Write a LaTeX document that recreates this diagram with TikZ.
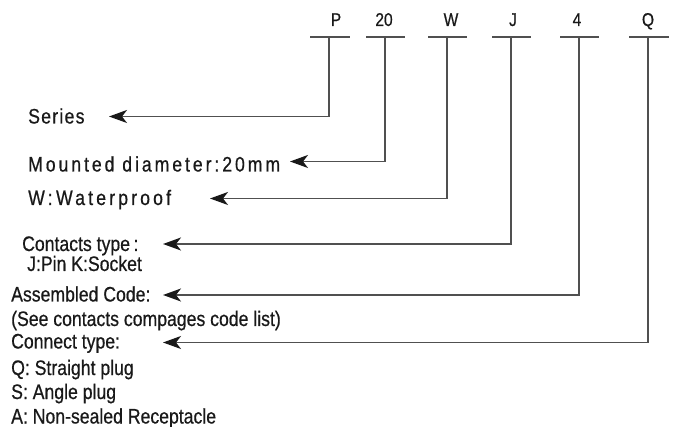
\documentclass[tikz,border=0pt]{standalone}
\usepackage{fontspec}
\usetikzlibrary{arrows.meta, positioning}
\newfontfamily\lbfont[FakeStretch=0.84, FakeBold=0.6]{Liberation Sans}
\definecolor{linecolor}{RGB}{80,80,80}
\definecolor{textcolor}{RGB}{25,25,25}

\begin{document}
\begin{tikzpicture}[x=1pt, y=-1pt]
  \tikzset{
    code/.style={
      font=\lbfont\fontsize{18.5}{21}\selectfont,
      text=textcolor,
      anchor=base,
      inner sep=0pt
    },
    desc/.style={
      font=\lbfont\fontsize{21}{24}\selectfont,
      text=textcolor,
      anchor=base west,
      inner sep=0pt
    },
    bar/.style={
      draw=linecolor,
      line width=1.8pt
    },
    conn/.style={
      draw=linecolor,
      line width=1.8pt,
      -{Stealth[length=18pt, width=13pt, inset=5pt, color=textcolor]}
    }
  }
  \useasboundingbox (0,0) rectangle (674,427);

  % Code letters on top
  \node[code] at (336,26) (cP) {P};
  \node[code] at (384,26) (c20) {20};
  \node[code] at (451,26) (cW) {W};
  \node[code] at (513,26) (cJ) {J};
  \node[code] at (577,26) (c4) {4};
  \node[code] at (648,26) (cQ) {Q};

  % Bars under the letters
  \coordinate (bP) at (329,37);
  \coordinate (b20) at (385,37);
  \coordinate (bW) at (447,37);
  \coordinate (bJ) at (511,37);
  \coordinate (b4) at (579,37);
  \coordinate (bQ) at (648,37);
  \draw[bar] (310,37) -- (350,37);
  \draw[bar] (366,37) -- (405,37);
  \draw[bar] (428,37) -- (467,37);
  \draw[bar] (492,37) -- (531,37);
  \draw[bar] (560,37) -- (599,37);
  \draw[bar] (629,37) -- (669,37);

  % Descriptions
  \node[desc] at (28,123.5) (dSeries) {\addfontfeature{LetterSpace=6}Series};
  \node[desc] at (28,171.5) (dDiam) {\addfontfeature{LetterSpace=14}Mounted diameter:20mm};
  \node[desc] at (28,205) (dWater) {\addfontfeature{LetterSpace=15}W:\,Waterproof};
  \node[desc] at (22,251) (dCont) {Contacts type\,:};
  \node[desc] at (27,271) (dPin) {J:Pin K:Socket};
  \node[desc] at (11,301.5) (dAsm) {Assembled Code:};
  \node[desc] at (11,326) (dSee) {(See contacts compages code list)};
  \node[desc] at (11,348.5) (dConn) {Connect type:};
  \node[desc] at (11,375) (dStr) {Q: Straight plug};
  \node[desc] at (11,399) (dAng) {S: Angle plug};
  \node[desc] at (11,423.5) (dRec) {A: Non-sealed Receptacle};

  % Arrow ends
  \coordinate (tSeries) at (109,116.5);
  \coordinate (tDiam) at (290,161.5);
  \coordinate (tWater) at (210,198.5);
  \coordinate (tCont) at (163,244);
  \coordinate (tAsm) at (163,295);
  \coordinate (tConn) at (163,342.5);

  % Connectors
  \draw[conn] (bP) |- (tSeries);
  \draw[conn] (b20) |- (tDiam);
  \draw[conn] (bW) |- (tWater);
  \draw[conn] (bJ) |- (tCont);
  \draw[conn] (b4) |- (tAsm);
  \draw[conn] (bQ) |- (tConn);
\end{tikzpicture}
\end{document}
